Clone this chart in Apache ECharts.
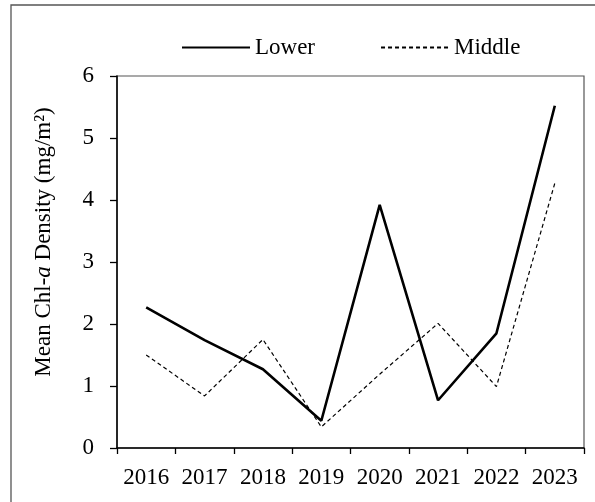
<!DOCTYPE html>
<html>
<head>
<meta charset="utf-8">
<script src="https://cdn.jsdelivr.net/npm/echarts@6/dist/echarts.min.js"></script>
<style>
html,body{margin:0;padding:0;background:#fff;}
#c{width:595px;height:502px;}
</style>
</head>
<body>
<div id="c"></div>
<script>
const years = ['2016','2017','2018','2019','2020','2021','2022','2023'];
const lowerValues = [2.27, 1.74, 1.27, 0.44, 3.92, 0.77, 1.85, 5.52];
const middleValues = [1.50, 0.84, 1.75, 0.34, 1.19, 2.01, 0.99, 4.27];
const yTicks = [0, 1, 2, 3, 4, 5, 6];

const FONT = '"Liberation Serif", "Times New Roman", serif';
const chart = echarts.init(document.getElementById('c'), null, {renderer: 'canvas'});
chart.setOption({
  animation: false,
  backgroundColor: '#fff',
  graphic: [{
    type: 'rect', silent: true,
    shape: {x: 11, y: 5, width: 600, height: 510},
    style: {fill: 'none', stroke: '#555', lineWidth: 1.3}
  }],
  legend: {
    left: 176, top: 31,
    itemWidth: 68, itemHeight: 14, itemGap: 65,
    itemStyle: {opacity: 0},
    textStyle: {fontFamily: FONT, fontSize: 23, color: '#000'},
    data: ['Lower', 'Middle']
  },
  grid: {
    left: 117, right: 11, top: 76, bottom: 54,
    show: true, borderColor: '#555', borderWidth: 1.2, backgroundColor: 'transparent'
  },
  xAxis: {
    type: 'category', data: years, boundaryGap: true,
    axisLine: {lineStyle: {color: '#000', width: 1.5}},
    axisTick: {show: true, inside: false, length: 6, interval: 0, lineStyle: {color: '#000', width: 1.3}},
    axisLabel: {color: '#000', fontFamily: FONT, fontSize: 23, margin: 18, interval: 0, hideOverlap: false},
    splitLine: {show: false}
  },
  yAxis: {
    type: 'value', min: yTicks[0], max: yTicks[yTicks.length - 1], interval: 1,
    axisLine: {show: true, lineStyle: {color: '#000', width: 1.5}},
    axisTick: {show: true, inside: false, length: 7, lineStyle: {color: '#000', width: 1.3}},
    axisLabel: {color: '#000', fontFamily: FONT, fontSize: 23, margin: 23},
    splitLine: {show: false},
    name: 'Mean Chl-{i|a} Density (mg/m²)',
    nameLocation: 'middle', nameRotate: 90, nameGap: 62,
    nameTextStyle: {
      color: '#000', fontFamily: FONT, fontSize: 23,
      padding: [0, 0, 0, 40],
      rich: {i: {fontStyle: 'italic', fontFamily: FONT, fontSize: 23, color: '#000'}}
    }
  },
  series: [
    {
      name: 'Lower', type: 'line', data: lowerValues, symbol: 'none',
      lineStyle: {color: '#000', width: 2.6, type: 'solid'},
      itemStyle: {color: '#000'}
    },
    {
      name: 'Middle', type: 'line', data: middleValues, symbol: 'none',
      lineStyle: {color: '#000', width: 1.2, type: [4, 3]},
      itemStyle: {color: '#000'}
    }
  ]
});
</script>
</body>
</html>
